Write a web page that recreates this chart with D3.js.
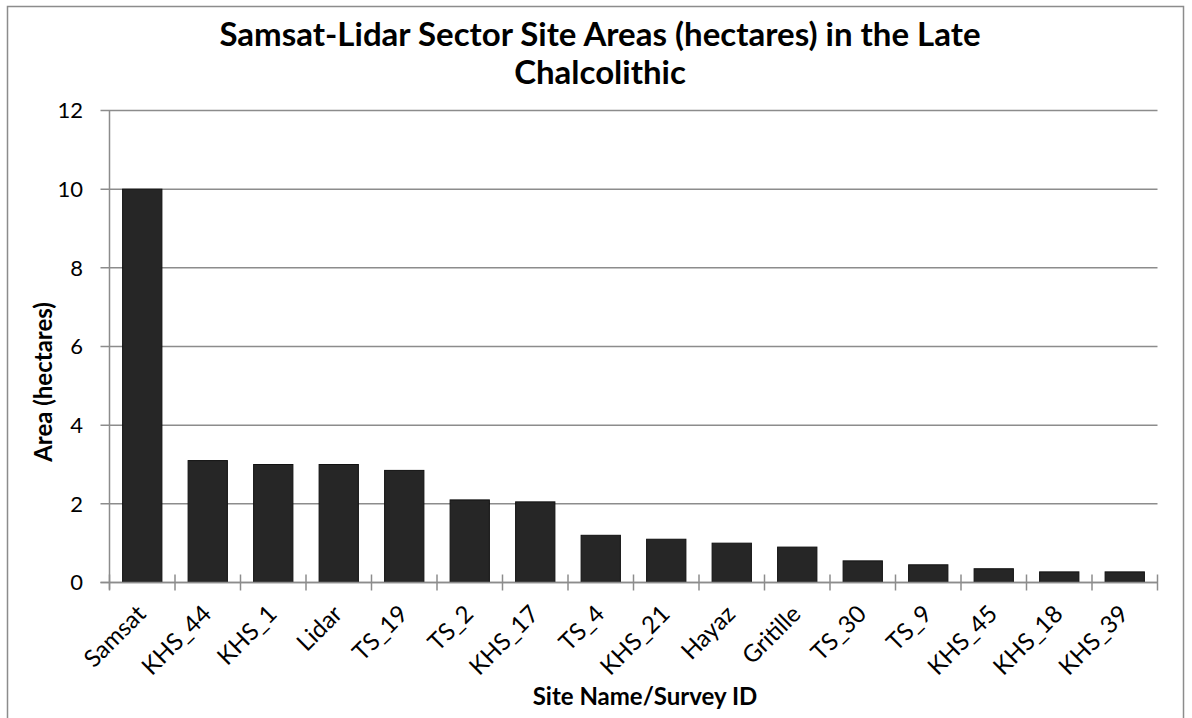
<!doctype html>
<html>
<head>
  <meta charset="utf-8">
  <title>Samsat-Lidar Sector Site Areas</title>
  <script src="https://cdnjs.cloudflare.com/ajax/libs/d3/7.8.5/d3.min.js"></script>
  <style>
    html, body { margin: 0; padding: 0; background: #fff; }
    svg text { font-family: Lato, "Open Sans", sans-serif; fill: #000; }
  </style>
</head>
<body>
  <div id="chart"></div>
  <script>
    // data
    const sites = ['Samsat', 'KHS_44', 'KHS_1', 'Lidar', 'TS_19', 'TS_2', 'KHS_17', 'TS_4',
      'KHS_21', 'Hayaz', 'Gritille', 'TS_30', 'TS_9', 'KHS_45', 'KHS_18', 'KHS_39'];
    const areas = [10, 3.1, 3.0, 3.0, 2.85, 2.1, 2.05, 1.2, 1.1, 1.0, 0.9, 0.55, 0.45, 0.35, 0.27, 0.27];
    const yTicks = [0, 2, 4, 6, 8, 10, 12];

    const data = sites.map((s, i) => ({ site: s, area: areas[i] }));

    const W = 1192, H = 718;
    const plotL = 109.5, plotR = 1157.5, plotT = 110.5, plotB = 582.5;

    const svg = d3.select('#chart').append('svg')
      .attr('width', W)
      .attr('height', H);

    // outer chart border
    svg.append('rect')
      .attr('x', 7.5).attr('y', 6.5)
      .attr('width', 1176).attr('height', 720)
      .attr('fill', 'none')
      .attr('stroke', '#8c8c8c')
      .attr('stroke-width', 1.5);

    const x = d3.scaleBand()
      .domain(sites)
      .range([plotL, plotR])
      .paddingInner(0.4)
      .paddingOuter(0.2);

    const y = d3.scaleLinear()
      .domain([0, 12])
      .range([plotB, plotT]);

    // gridlines
    svg.append('g')
      .selectAll('line')
      .data(yTicks)
      .join('line')
      .attr('x1', plotL - 9)
      .attr('x2', plotR)
      .attr('y1', d => y(d))
      .attr('y2', d => y(d))
      .attr('stroke', '#8c8c8c')
      .attr('stroke-width', 1.5);

    // y axis line
    svg.append('line')
      .attr('x1', plotL).attr('x2', plotL)
      .attr('y1', plotT).attr('y2', plotB + 7)
      .attr('stroke', '#8c8c8c')
      .attr('stroke-width', 1.5);

    // y tick labels
    svg.append('g')
      .selectAll('text')
      .data(yTicks)
      .join('text')
      .attr('x', 83)
      .attr('y', d => y(d))
      .attr('dy', '0.36em')
      .attr('text-anchor', 'end')
      .style('font-size', '22px')
      .text(d => d);

    // bars
    svg.append('g')
      .selectAll('rect')
      .data(data)
      .join('rect')
      .attr('x', d => x(d.site))
      .attr('y', d => y(d.area))
      .attr('width', x.bandwidth())
      .attr('height', d => y(0) - y(d.area))
      .attr('fill', '#262626')
      .attr('stroke', '#111')
      .attr('stroke-width', 1);

    // x axis line drawn over bars
    svg.append('line')
      .attr('x1', plotL - 9).attr('x2', plotR)
      .attr('y1', plotB).attr('y2', plotB)
      .attr('stroke', '#8c8c8c')
      .attr('stroke-width', 1.5);

    // category boundary ticks
    const bounds = d3.range(sites.length + 1).map(i => plotL + i * (plotR - plotL) / sites.length);
    svg.append('g')
      .selectAll('line')
      .data(bounds)
      .join('line')
      .attr('x1', d => d).attr('x2', d => d)
      .attr('y1', plotB - 8).attr('y2', plotB + 8)
      .attr('stroke', '#8c8c8c')
      .attr('stroke-width', 1.5);

    // x tick labels, rotated
    svg.append('g')
      .selectAll('text')
      .data(sites)
      .join('text')
      .attr('transform', d => `translate(${x(d) + x.bandwidth() / 2 + 5},${plotB + 33}) rotate(-45)`)
      .attr('text-anchor', 'end')
      .style('font-size', '24px')
      .text(d => d);

    // title
    const title = svg.append('text')
      .attr('text-anchor', 'middle')
      .style('font-size', '33px')
      .style('font-weight', 'bold');
    title.append('tspan').attr('x', 600).attr('y', 46)
      .text('Samsat-Lidar Sector Site Areas (hectares) in the Late');
    title.append('tspan').attr('x', 600).attr('y', 84)
      .text('Chalcolithic');

    // axis titles
    svg.append('text')
      .attr('transform', 'translate(52,382) rotate(-90)')
      .attr('text-anchor', 'middle')
      .style('font-size', '24px')
      .style('font-weight', 'bold')
      .text('Area (hectares)');

    svg.append('text')
      .attr('x', 645)
      .attr('y', 705)
      .attr('text-anchor', 'middle')
      .style('font-size', '24px')
      .style('font-weight', 'bold')
      .text('Site Name/Survey ID');
  </script>
</body>
</html>
